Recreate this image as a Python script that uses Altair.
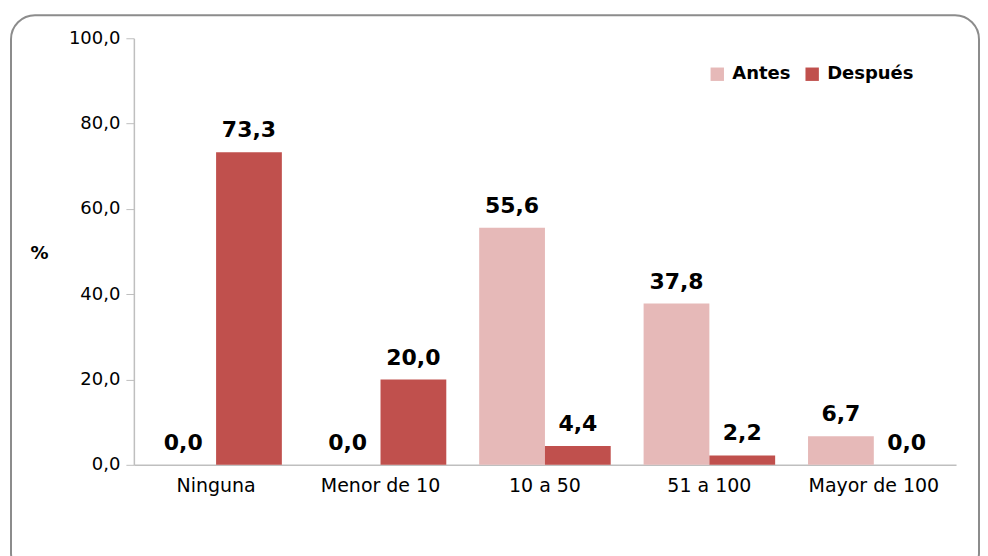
import altair as alt
import pandas as pd

categories = ["Ninguna", "Menor de 10", "10 a 50", "51 a 100", "Mayor de 100"]
series = ["Antes", "Después"]
antes = [0.0, 0.0, 55.6, 37.8, 6.7]
despues = [73.3, 20.0, 4.4, 2.2, 0.0]
y_ticks = [0, 20, 40, 60, 80, 100]

rows = []
for c, a, d in zip(categories, antes, despues):
    rows.append({"cat": c, "serie": "Antes", "valor": a})
    rows.append({"cat": c, "serie": "Después", "valor": d})
df = pd.DataFrame(rows)

FONT = "DejaVu Sans"
W, H = 823, 427

x_enc = alt.X("cat:N", sort=categories, title=None,
              scale=alt.Scale(paddingInner=0.2, paddingOuter=0.1),
              axis=alt.Axis(labelAngle=0, ticks=False, labelPadding=12,
                            labelFont=FONT, labelFontSize=19, labelColor="#000000",
                            domainColor="#BFBFBF", domainWidth=1.5))
xo_enc = alt.XOffset("serie:N", sort=series,
                     scale=alt.Scale(paddingInner=0, paddingOuter=0))
y_enc = alt.Y("valor:Q", scale=alt.Scale(domain=[0, 100]),
              axis=alt.Axis(values=y_ticks, grid=False, title="%",
                            titleAngle=0, titleX=-95, titleY=215,
                            titleAlign="center", titleBaseline="middle",
                            titleFont=FONT, titleFontSize=18, titleFontWeight="bold",
                            titleColor="#000000",
                            labelExpr="replace(format(datum.value, '.1f'), '.', ',')",
                            labelFont=FONT, labelFontSize=18, labelColor="#000000",
                            labelPadding=6, tickSize=8, tickColor="#BFBFBF",
                            domainColor="#BFBFBF", domainWidth=1.5))

base = alt.Chart(df)

bars = base.mark_bar().encode(
    x=x_enc, xOffset=xo_enc, y=y_enc,
    color=alt.Color("serie:N", sort=series,
                    scale=alt.Scale(domain=series, range=["#E6B9B8", "#C0504D"]),
                    legend=alt.Legend(title=None, orient="none", direction="horizontal",
                                      legendX=575, legendY=27, symbolType="square",
                                      symbolSize=180, symbolStrokeWidth=0,
                                      labelFont=FONT, labelFontSize=18,
                                      labelFontWeight="bold", labelColor="#000000",
                                      labelOffset=6, columnPadding=12, padding=0))
)

labels = base.transform_calculate(
    lab="replace(format(datum.valor, '.1f'), '.', ',')"
).mark_text(font=FONT, fontSize=22, fontWeight="bold", color="#000000",
            baseline="bottom", dy=-10).encode(
    x=x_enc, xOffset=xo_enc, y=y_enc, text="lab:N"
)

frame = alt.Chart(pd.DataFrame({"f": [0]})).mark_rect(
    fillOpacity=0, stroke="#8C8C8C", strokeWidth=2, cornerRadius=24
).encode(x=alt.value(-123), x2=alt.value(846), y=alt.value(-23), y2=alt.value(540))

chart = alt.layer(frame, bars, labels).properties(
    width=W, height=H,
    padding={"left": 2, "top": 6, "right": 0, "bottom": 0},
    background="#FFFFFF"
).configure_view(stroke=None)

chart.save("out.html", embed_options={"renderer": "svg", "actions": False})
